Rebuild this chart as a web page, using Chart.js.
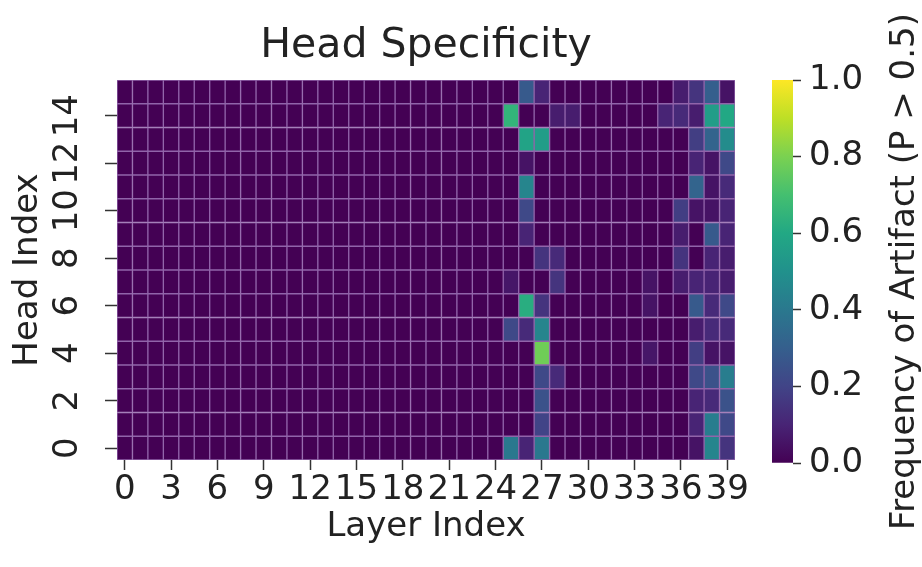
<!DOCTYPE html>
<html>
<head>
<meta charset="utf-8">
<title>Head Specificity</title>
<script src="https://cdn.jsdelivr.net/npm/chart.js@4/dist/chart.umd.min.js"></script>
<style>
  html, body { margin: 0; padding: 0; background: #fff; }
  #wrap { position: relative; width: 922px; height: 567px; overflow: hidden; }
  #heat { position: absolute; left: 0; top: 0; }
  #cbar { position: absolute; left: 740px; top: 0; }
</style>
</head>
<body>
<div id="wrap">
  <canvas id="heat" width="852" height="567" style="width:852px;height:567px"></canvas>
  <canvas id="cbar" width="182" height="567" style="width:182px;height:567px"></canvas>
</div>
<script>
// data
const layers = [0,1,2,3,4,5,6,7,8,9,10,11,12,13,14,15,16,17,18,19,20,21,22,23,24,25,26,27,28,29,30,31,32,33,34,35,36,37,38,39];
const heads = [0,1,2,3,4,5,6,7,8,9,10,11,12,13,14,15];
const layerTicks = [0,3,6,9,12,15,18,21,24,27,30,33,36,39];
const headTicks = [0,2,4,6,8,10,12,14];
const cbarTicks = [0,0.2,0.4,0.6,0.8,1.0];

// freq[head][layer]  (layers 0-23 are all zero)
const freq = [
  [0,0,0,0,0,0,0,0,0,0,0,0,0,0,0,0,0,0,0,0,0,0,0,0, 0,.40,.10,.40,0,0,0,0,0,0,0,0,0,.05,.45,.15],
  [0,0,0,0,0,0,0,0,0,0,0,0,0,0,0,0,0,0,0,0,0,0,0,0, 0,0,0,.20,0,0,0,0,0,0,0,0,0,.10,.42,.22],
  [0,0,0,0,0,0,0,0,0,0,0,0,0,0,0,0,0,0,0,0,0,0,0,0, 0,0,0,.25,0,0,0,0,0,0,0,0,0,.10,.12,.25],
  [0,0,0,0,0,0,0,0,0,0,0,0,0,0,0,0,0,0,0,0,0,0,0,0, 0,0,0,.22,.12,0,0,0,0,0,0,0,0,.22,.25,.42],
  [0,0,0,0,0,0,0,0,0,0,0,0,0,0,0,0,0,0,0,0,0,0,0,0, 0,0,0,.78,0,0,0,0,0,0,.06,0,0,.18,.05,.05],
  [0,0,0,0,0,0,0,0,0,0,0,0,0,0,0,0,0,0,0,0,0,0,0,0, 0,.22,.12,.45,0,0,0,0,0,0,0,0,0,.08,.12,.12],
  [0,0,0,0,0,0,0,0,0,0,0,0,0,0,0,0,0,0,0,0,0,0,0,0, 0,0,.62,.15,0,0,0,0,0,0,.05,0,0,.28,.12,.22],
  [0,0,0,0,0,0,0,0,0,0,0,0,0,0,0,0,0,0,0,0,0,0,0,0, 0,.06,0,0,.15,0,0,0,0,0,.05,0,.08,.10,.10,.08],
  [0,0,0,0,0,0,0,0,0,0,0,0,0,0,0,0,0,0,0,0,0,0,0,0, 0,0,0,.15,.12,0,0,0,0,0,0,0,.15,0,.10,.08],
  [0,0,0,0,0,0,0,0,0,0,0,0,0,0,0,0,0,0,0,0,0,0,0,0, 0,0,.10,0,0,0,0,0,0,0,0,0,.08,0,.28,.10],
  [0,0,0,0,0,0,0,0,0,0,0,0,0,0,0,0,0,0,0,0,0,0,0,0, 0,0,.22,0,0,0,0,0,0,0,0,0,.18,.05,.05,.10],
  [0,0,0,0,0,0,0,0,0,0,0,0,0,0,0,0,0,0,0,0,0,0,0,0, 0,0,.45,0,0,0,0,0,0,0,0,0,0,.32,.05,.12],
  [0,0,0,0,0,0,0,0,0,0,0,0,0,0,0,0,0,0,0,0,0,0,0,0, 0,0,.05,0,0,0,0,0,0,0,0,0,0,.10,.05,.22],
  [0,0,0,0,0,0,0,0,0,0,0,0,0,0,0,0,0,0,0,0,0,0,0,0, 0,0,.58,.55,0,0,0,0,0,0,0,0,0,.18,.32,.48],
  [0,0,0,0,0,0,0,0,0,0,0,0,0,0,0,0,0,0,0,0,0,0,0,0, 0,.65,0,0,.08,.08,0,0,0,0,0,.10,.12,.08,.55,.60],
  [0,0,0,0,0,0,0,0,0,0,0,0,0,0,0,0,0,0,0,0,0,0,0,0, 0,0,.28,.10,0,0,0,0,0,0,0,0,.08,.15,.30,.05]
];

// viridis colormap
const viridisStops = ['#440154','#482475','#414487','#355f8d','#2a788e','#21918c','#22a884','#44bf70','#7ad151','#bddf26','#fde725'];

function hexRgb(h) {
  return [parseInt(h.substr(1,2),16), parseInt(h.substr(3,2),16), parseInt(h.substr(5,2),16)];
}

function viridis(v) {
  v = Math.max(0, Math.min(1, v));
  var p = v * (viridisStops.length - 1);
  var i = Math.min(viridisStops.length - 2, Math.floor(p));
  var t = p - i;
  var a = hexRgb(viridisStops[i]), b = hexRgb(viridisStops[i+1]);
  return 'rgb(' + Math.round(a[0]+(b[0]-a[0])*t) + ',' + Math.round(a[1]+(b[1]-a[1])*t) + ',' + Math.round(a[2]+(b[2]-a[2])*t) + ')';
}

Chart.defaults.font.family = "'DejaVu Sans', sans-serif";
Chart.defaults.color = '#222';

var tickFont = {size: 34, lineHeight: 1};
var labelFont = {size: 34, lineHeight: 1};

// one floating-bar dataset per head, each bar is one cell
var datasets = heads.map(function(h, r) {
  return {
    label: 'Head ' + h,
    data: layers.map(function(l) { return {x: l, y: [h - 0.5, h + 0.5]}; }),
    backgroundColor: layers.map(function(l, c) { return viridis(freq[r][c]); }),
    borderColor: 'rgb(145,100,170)',
    borderWidth: 1,
    borderSkipped: false,
    barPercentage: 1,
    categoryPercentage: 1,
    grouped: false
  };
});

new Chart(document.getElementById('heat'), {
  type: 'bar',
  data: { datasets: datasets },
  options: {
    responsive: false,
    animation: false,
    layout: { padding: { left: 11, right: 117, top: 0, bottom: 23 } },
    plugins: {
      legend: { display: false },
      tooltip: { enabled: false },
      title: { display: false }
    },
    scales: {
      x: {
        type: 'linear',
        min: -0.5,
        max: 39.5,
        offset: false,
        afterBuildTicks: function(s) { s.ticks = layerTicks.map(function(v) { return {value: v}; }); },
        grid: { offset: false, drawOnChartArea: false, drawTicks: true, tickLength: 10, tickWidth: 1.5, color: '#333' },
        border: { display: false },
        ticks: { font: tickFont, padding: 3, autoSkip: false, minRotation: 0, maxRotation: 0 },
        title: { display: true, text: 'Layer Index', font: labelFont, padding: { top: 0, bottom: 0 } }
      },
      // top axis only carries the chart title so it is centred over the cells
      top: {
        type: 'linear',
        axis: 'x',
        position: 'top',
        min: -0.5,
        max: 39.5,
        grid: { display: false },
        border: { display: false },
        ticks: { display: false },
        afterFit: function(s) { s.height = 80; },
        title: {
          display: true,
          text: 'Head Specificity',
          color: '#222',
          font: { size: 41, lineHeight: 1 },
          padding: { top: 26, bottom: 13 }
        }
      },
      y: {
        type: 'linear',
        min: -0.5,
        max: 15.5,
        afterBuildTicks: function(s) { s.ticks = headTicks.map(function(v) { return {value: v}; }); },
        afterFit: function(s) { s.width = 106; },
        grid: { drawOnChartArea: false, drawTicks: true, tickLength: 12, tickWidth: 1.5, color: '#333' },
        border: { display: false },
        ticks: { font: tickFont, padding: 15, autoSkip: false, minRotation: 90, maxRotation: 90, crossAlign: 'center' },
        title: { display: true, text: 'Head Index', font: labelFont, padding: { top: 0, bottom: 12 } }
      }
    }
  }
});

// colorbar: one floating bar from 0 to 1 filled with the colormap
var cbarLabel = {
  id: 'cbarLabel',
  afterDraw: function(chart) {
    var c = chart.ctx, a = chart.chartArea;
    c.save();
    c.translate(165, (a.top + a.bottom) / 2);
    c.rotate(-Math.PI / 2);
    c.font = "34px 'DejaVu Sans'";
    c.fillStyle = '#222';
    c.textAlign = 'center';
    c.textBaseline = 'middle';
    c.fillText('Frequency of Artifact (P > 0.5)', 0, 0);
    c.restore();
  }
};

new Chart(document.getElementById('cbar'), {
  type: 'bar',
  data: {
    labels: [''],
    datasets: [{
      data: [[0, 1]],
      barPercentage: 1,
      categoryPercentage: 1,
      borderWidth: 0,
      backgroundColor: function(ctx) {
        var chart = ctx.chart, a = chart.chartArea;
        if (!a) return viridis(0.5);
        var g = chart.ctx.createLinearGradient(0, a.bottom, 0, a.top);
        viridisStops.forEach(function(col, i) { g.addColorStop(i / (viridisStops.length - 1), col); });
        return g;
      }
    }]
  },
  options: {
    responsive: false,
    animation: false,
    layout: { padding: { left: 32, right: 59, top: 80, bottom: 104 } },
    plugins: { legend: { display: false }, tooltip: { enabled: false }, title: { display: false } },
    scales: {
      x: { display: false },
      y: {
        position: 'right',
        min: 0,
        max: 1,
        afterBuildTicks: function(s) { s.ticks = cbarTicks.map(function(v) { return {value: v}; }); },
        afterFit: function(s) { s.width = 70; },
        grid: { drawOnChartArea: false, drawTicks: true, tickLength: 8, tickWidth: 1.5, color: '#333' },
        border: { display: false },
        ticks: { font: tickFont, padding: 8, callback: function(v) { return v.toFixed(1); } }
      }
    }
  },
  plugins: [cbarLabel]
});
</script>
</body>
</html>
